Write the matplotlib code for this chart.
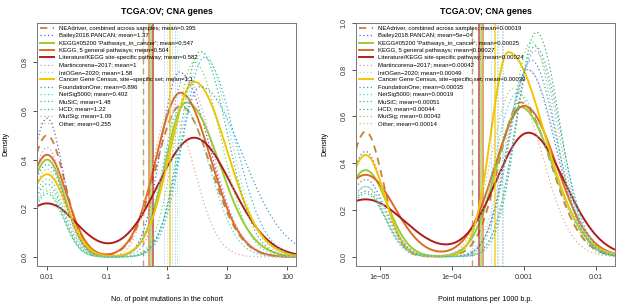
import numpy as np
import matplotlib
matplotlib.use("Agg")
import matplotlib.pyplot as plt

plt.rcParams["font.family"] = ["Liberation Sans", "DejaVu Sans"]

# series, in legend order
names = [
    "NEAdriver, combined across samples",
    "Bailey2018.PANCAN",
    "KEGG#05200 'Pathways_in_cancer'",
    "KEGG, 5 general pathways",
    "Literature/KEGG site-specific pathway",
    "Martincorena\u22122017",
    "IntOGen\u22122020",
    "Cancer Gene Census, site\u2212specific set",
    "FoundationOne",
    "NetSig5000",
    "MuSiC",
    "HCD",
    "MutSig",
    "Other",
]
mean_cohort = ["0.395", "1.37", "0.547", "0.504", "0.582", "1", "1.58",
               "1.1", "0.896", "0.402", "1.48", "1.22", "1.09", "0.255"]
mean_rate = ["0.00019", "5e\u221204", "0.00025", "0.00027", "0.00024", "0.00042",
             "0.00049", "0.00039", "0.00035", "0.00019", "0.00051", "0.00044",
             "0.00042", "0.00014"]

colors = ["#CC8033", "#6A5ACD", "#99CC33", "#DD6A22", "#B01C1C", "#CC99CC",
          "#99DDDD", "#F5C400", "#3399DD", "#40D8D0", "#22BBCC", "#33BB66",
          "#77DD55", "#D9B48C"]
styles = ["dash", "dot", "solid", "solid", "solid", "dot", "dot",
          "solid", "dot", "dot", "dot", "dot", "dot", "dot"]

# density shapes (log10 scale):
# zero-mode bump height/width, main bump height/mode/left sd/right sd
coh_zero_pos = -2.0
coh_zero_h = [0.50, 0.57, 0.40, 0.42, 0.22, 0.45, 0.28, 0.34, 0.38, 0.32, 0.26, 0.30, 0.27, 0.36]
coh_zero_s = [0.30, 0.27, 0.30, 0.33, 0.50, 0.27, 0.27, 0.33, 0.30, 0.28, 0.27, 0.27, 0.27, 0.28]
coh_main_h = [0.62, 0.76, 0.635, 0.675, 0.49, 0.74, 0.84, 0.72, 0.70, 0.62, 0.82, 0.845, 0.80, 0.60]
coh_main_m = [0.22, 0.20, 0.32, 0.22, 0.45, 0.30, 0.60, 0.45, 0.55, 0.25, 0.62, 0.55, 0.45, 0.05]
coh_main_sl = [0.40, 0.30, 0.35, 0.40, 0.60, 0.30, 0.35, 0.40, 0.35, 0.32, 0.35, 0.33, 0.32, 0.30]
coh_main_sr = [0.50, 0.50, 0.55, 0.50, 0.62, 0.45, 0.45, 0.55, 0.70, 0.45, 0.50, 0.45, 0.45, 0.40]

rate_zero_pos = -5.2
rate_zero_h = [0.535, 0.45, 0.37, 0.35, 0.245, 0.30, 0.30, 0.435, 0.33, 0.30, 0.27, 0.28, 0.28, 0.33]
rate_zero_s = [0.24, 0.25, 0.30, 0.40, 0.55, 0.25, 0.28, 0.26, 0.28, 0.30, 0.27, 0.27, 0.27, 0.27]
rate_main_h = [0.66, 0.80, 0.64, 0.645, 0.53, 0.88, 0.80, 0.875, 0.84, 0.70, 0.90, 0.96, 0.92, 0.72]
rate_main_m = [-3.05, -2.95, -3.05, -3.0, -2.94, -2.85, -2.95, -3.22, -2.9, -3.1, -2.85, -2.83, -2.9, -3.15]
rate_main_sl = [0.30, 0.28, 0.33, 0.40, 0.45, 0.28, 0.30, 0.24, 0.30, 0.30, 0.28, 0.27, 0.28, 0.30]
rate_main_sr = [0.42, 0.38, 0.45, 0.45, 0.50, 0.33, 0.40, 0.50, 0.35, 0.45, 0.35, 0.32, 0.33, 0.40]


def curve(lx, zpos, zh, zs, mh, mm, sl, sr):
    z = zh * np.exp(-(lx - zpos) ** 2 / (2 * zs ** 2))
    s = np.where(lx < mm, sl, sr)
    return z + mh * np.exp(-(lx - mm) ** 2 / (2 * s ** 2))


def line_kw(i):
    if styles[i] == "solid":
        return dict(color=colors[i], lw=1.4, ls="-")
    if styles[i] == "dash":
        return dict(color=colors[i], lw=1.3, ls=(0, (4, 3)))
    return dict(color=colors[i], lw=0.9, ls=(0, (1, 2)))


def panel(ax, xlim, zpos, zh, zs, mh, mm, sl, sr, means, ylim, yticks,
          xticks, xlabels, xlabel):
    lx = np.linspace(np.log10(xlim[0]), np.log10(xlim[1]), 500)
    handles = []
    for i in range(len(names)):
        y = curve(lx, zpos, zh[i], zs[i], mh[i], mm[i], sl[i], sr[i])
        kw = line_kw(i)
        h, = ax.plot(10 ** lx, y, **kw,
                     label="%s; mean=%s" % (names[i], means[i]))
        handles.append(h)
        vkw = dict(kw)
        vkw["lw"] = kw["lw"] * 0.8
        ax.axvline(float(means[i].replace("\u2212", "-")), **vkw,
                   alpha=0.8 if styles[i] != "dot" else 0.5)
    ax.set_xscale("log")
    ax.set_xlim(xlim)
    ax.set_ylim(ylim)
    ax.set_yticks(yticks)
    ax.set_yticklabels(["%.1f" % v for v in yticks], rotation=90, va="center")
    ax.set_xticks(xticks)
    ax.set_xticklabels(xlabels)
    ax.minorticks_off()
    ax.tick_params(labelsize=5.2, length=3, width=0.6, pad=3, colors="#333333")
    for s in ax.spines.values():
        s.set_color("#777777")
        s.set_linewidth(0.7)
    ax.set_xlabel(xlabel, fontsize=5.2)
    ax.xaxis.set_label_coords(0.5, -0.125)
    ax.set_ylabel("Density", fontsize=5.2)
    ax.yaxis.set_label_coords(-0.105, 0.5)
    ax.text(0.5, 1.045, "TCGA:OV; CNA genes", transform=ax.transAxes,
            ha="center", va="center", fontsize=6.3, fontweight="bold")
    ax.legend(handles=handles, loc="upper left", frameon=False, fontsize=4.3,
              handlelength=2.4, handletextpad=0.8, labelspacing=0.36,
              borderaxespad=0.2, borderpad=0.3)


fig = plt.figure(figsize=(6.17, 3.05), dpi=100)
ax1 = fig.add_axes([0.060, 0.128, 0.420, 0.797])
ax2 = fig.add_axes([0.577, 0.128, 0.420, 0.797])

panel(ax1, (10 ** -2.167, 10 ** 2.15), coh_zero_pos, coh_zero_h, coh_zero_s,
      coh_main_h, coh_main_m, coh_main_sl, coh_main_sr, mean_cohort,
      (-0.037, 0.962), [0.0, 0.2, 0.4, 0.6, 0.8],
      [0.01, 0.1, 1, 10, 100], ["0.01", "0.1", "1", "10", "100"],
      "No. of point mutations in the cohort")
panel(ax2, (10 ** -5.333, 10 ** -1.736), rate_zero_pos, rate_zero_h, rate_zero_s,
      rate_main_h, rate_main_m, rate_main_sl, rate_main_sr, mean_rate,
      (-0.04, 1.0), [0.0, 0.2, 0.4, 0.6, 0.8, 1.0],
      [1e-5, 1e-4, 1e-3, 1e-2], ["1e\u221205", "1e\u221204", "0.001", "0.01"],
      "Point mutations per 1000 b.p.")

fig.savefig("out.png", dpi=100)
